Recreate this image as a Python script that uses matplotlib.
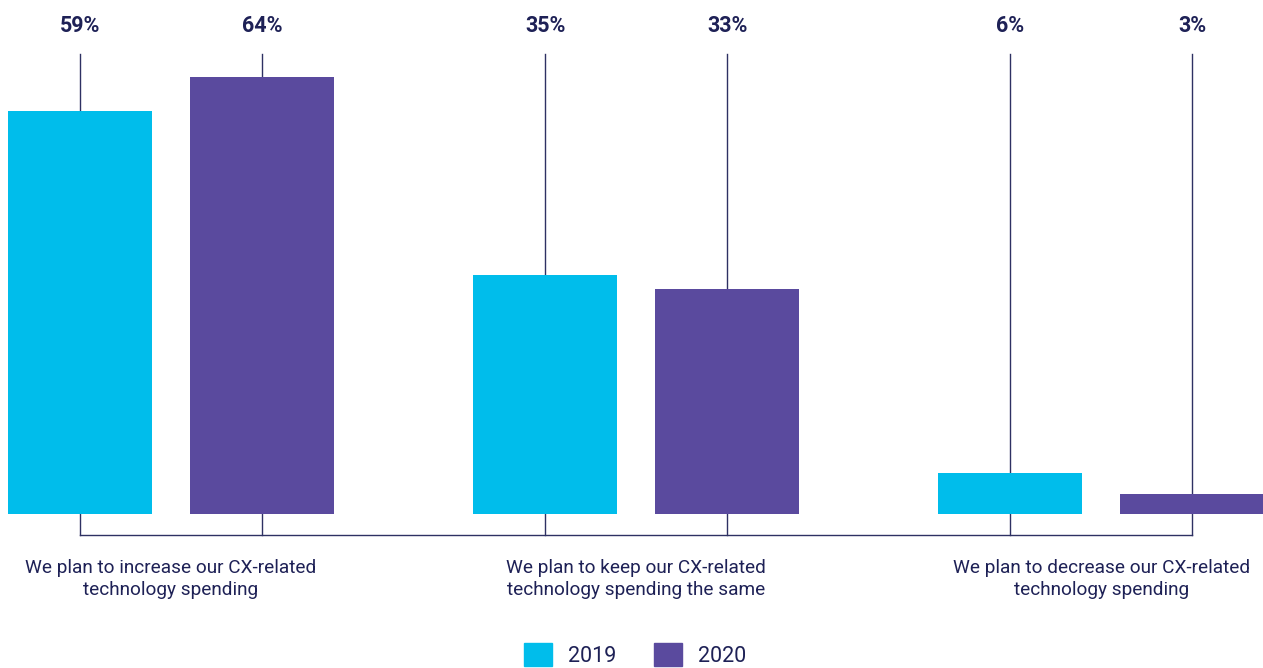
import matplotlib
matplotlib.use("Agg")
import matplotlib.pyplot as plt
from matplotlib.patches import Patch

plt.rcParams['font.family'] = ['Roboto', 'DejaVu Sans']

categories = [
    "We plan to increase our CX-related\ntechnology spending",
    "We plan to keep our CX-related\ntechnology spending the same",
    "We plan to decrease our CX-related\ntechnology spending",
]
years = ["2019", "2020"]
values_2019 = [59, 35, 6]
values_2020 = [64, 33, 3]

color_2019 = "#00BDEB"
color_2020 = "#5A4A9E"
ink = "#1E2156"
line_col = "#2E3163"

fig = plt.figure(figsize=(12.63, 6.68), dpi=100)
ax = fig.add_axes([0, 0, 1, 1])
ax.set_xlim(-0.3677, 2.348)
ax.set_ylim(-22.55, 75.26)
ax.axis("off")

offset = 0.1957
width = 0.3097
label_y = 71.4
line_top = 67.35
line_bottom = -3.07

xs = list(range(len(categories)))
for i in xs:
    for x, v in ((i - offset, values_2019[i]), (i + offset, values_2020[i])):
        ax.plot([x, x], [line_bottom, line_top], color=line_col, lw=1.0, zorder=1)
        ax.text(x, label_y, f"{v}%", ha="center", va="center",
                fontsize=15.5, fontweight="bold", color=ink)

ax.plot([xs[0] - offset, xs[-1] + offset], [line_bottom, line_bottom],
        color=line_col, lw=1.0, zorder=1)

ax.bar([i - offset for i in xs], values_2019, width=width, color=color_2019, zorder=2)
ax.bar([i + offset for i in xs], values_2020, width=width, color=color_2020, zorder=2)

for i, c in zip(xs, categories):
    ax.text(i, -9.5, c, ha="center", va="center", fontsize=13.7,
            color=ink, linespacing=1.33)

handles = [Patch(color=color_2019), Patch(color=color_2020)]
fig.legend(handles, years, loc="center", bbox_to_anchor=(635 / 1263, 1 - 655 / 668),
           ncol=2, frameon=False, fontsize=15.5, handlelength=1.3, handleheight=1.3,
           handletextpad=0.75, columnspacing=1.75, labelcolor=ink)

fig.savefig("out.png", dpi=100)
